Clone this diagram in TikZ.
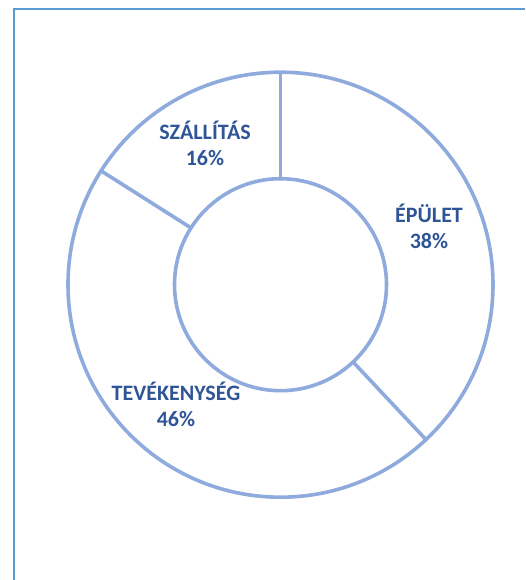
\documentclass[tikz,border=0pt]{standalone}
\usepackage{fontspec}
\setmainfont{Carlito}
\usetikzlibrary{calc}
\definecolor{ringblue}{HTML}{8FAADC}
\definecolor{frameblue}{HTML}{5B9BD5}
\definecolor{textblue}{HTML}{2F5597}
\begin{document}
\begin{tikzpicture}[x=1pt,y=-1pt,
  ring/.style={draw=ringblue,line width=3.6pt},
  lbl/.style={anchor=base,inner sep=0pt,text=textblue,font=\fontsize{22}{26}\selectfont\bfseries}]
\useasboundingbox (0,0) rectangle (525,580);
\draw[frameblue,line width=2pt] (525,8.7) -- (14,8.7) -- (14,581);
\coordinate (c) at (280.5,284.7);
\draw[ring] (c) circle[radius=212.5];
\draw[ring] (c) circle[radius=106];
\draw[ring] ($(c)+(90:-106)$) -- ($(c)+(90:-212.5)$);
\draw[ring] ($(c)+(46.8:106)$) -- ($(c)+(46.8:212.5)$);
\draw[ring] ($(c)+(-147.6:106)$) -- ($(c)+(-147.6:212.5)$);
\node[lbl] (sz1) at (205,139.5) {SZÁLLÍTÁS};
\node[lbl] (sz2) at (205,165.5) {16\%};
\node[lbl] (ep1) at (429,222.7) {ÉPÜLET};
\node[lbl] (ep2) at (429,248.6) {38\%};
\node[lbl] (te1) at (176,400.7) {TEVÉKENYSÉG};
\node[lbl] (te2) at (176,426.6) {46\%};
\end{tikzpicture}
\end{document}
